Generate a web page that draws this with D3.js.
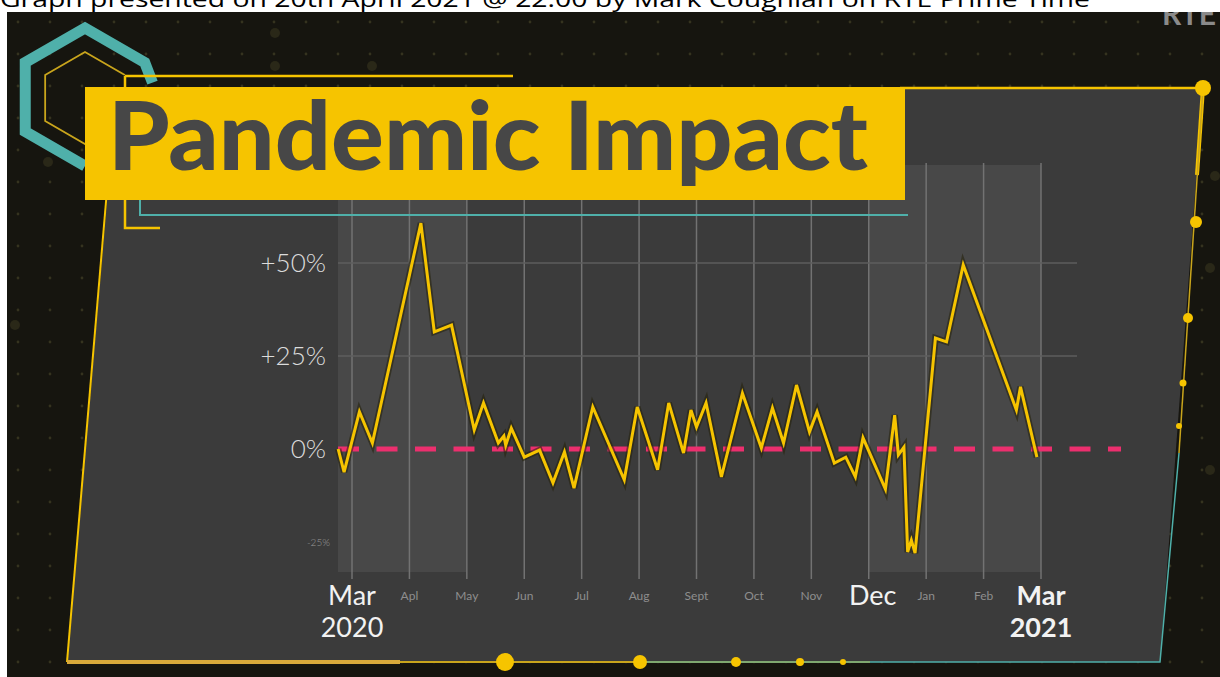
<!DOCTYPE html>
<html>
<head>
<meta charset="utf-8">
<script src="https://cdn.jsdelivr.net/npm/d3@7"></script>
<style>
  html, body { margin: 0; padding: 0; background: #fff; }
  svg { display: block; }
</style>
</head>
<body>
<svg id="chart" width="1220" height="677"></svg>
<script>
// weekly change in deaths vs usual
const dates = ["2020-02-23","2020-02-26","2020-03-05","2020-03-12","2020-04-07","2020-04-14","2020-04-23",
  "2020-05-05","2020-05-10","2020-05-18","2020-05-21","2020-05-22","2020-05-25","2020-06-01","2020-06-09",
  "2020-06-16","2020-06-22","2020-06-27","2020-07-07","2020-07-24","2020-07-31","2020-08-11","2020-08-17",
  "2020-08-25","2020-08-29","2020-09-01","2020-09-06","2020-09-14","2020-09-25","2020-10-05","2020-10-11",
  "2020-10-17","2020-10-24","2020-10-31","2020-11-04","2020-11-13","2020-11-19","2020-11-24","2020-11-28",
  "2020-12-10","2020-12-15","2020-12-17","2020-12-20","2020-12-22","2020-12-24","2020-12-26","2021-01-06",
  "2021-01-12","2021-01-21","2021-02-17","2021-02-19","2021-02-27"];
const values = [0,-6.2,10,1.6,60.7,31.5,33.3,
  5.1,12.4,1.6,3.5,1.0,5.6,-2.2,-0.3,
  -9.1,-0.8,-10.5,11.3,-8.3,11.3,-5.6,12.4,
  -1.1,10.5,5.9,12.4,-7.5,15,0.3,11,
  1.6,17.2,4.6,10,-3.8,-2.2,-7.5,3,
  -10.8,9.1,-1.6,0.5,-27.7,-24.5,-28,29.8,
  28.8,49.5,10.5,16.7,-2.2];

const monthTicks = ["Mar","Apl","May","Jun","Jul","Aug","Sept","Oct","Nov","Dec","Jan","Feb","Mar"];
const bigTicks = {0: ["Mar","2020"], 9: ["Dec"], 12: ["Mar","2021"]};
const yTicks = [50, 25, 0, -25];
const yLabels = ["+50%","+25%","0%","-25%"];
const lockdowns = [[-0.25, 2], [9, 12]];   // shaded periods, in months from Mar 2020

const title = "Pandemic Impact";
const caption = "Graph presented on 20th April 2021 @ 22:00 by Mark Coughlan on RTÉ Prime Time";

const yellow = "#f6c400", teal = "#4fb0aa", pink = "#ec2f6e";

// months are spaced evenly in the graphic, so work in fractional months
const start = new Date(2020, 2, 1);
function monthPos(s) {
  const d = d3.timeParse("%Y-%m-%d")(s);
  const m0 = d3.timeMonth.floor(d);
  const m1 = d3.timeMonth.offset(m0, 1);
  return d3.timeMonth.count(start, m0) + (d - m0) / (m1 - m0);
}
const data = dates.map((d, i) => ({ m: monthPos(d), v: values[i] }));

const svg = d3.select("#chart");
const x = d3.scaleLinear().domain([0, 12]).range([352, 1041]);
const y = d3.scaleLinear().domain([-25, 50]).range([542, 263]);

// dark backdrop with dot texture
svg.append("rect").attr("x", 7).attr("y", 12).attr("width", 1213).attr("height", 665).attr("fill", "#16150f");
const dots = [];
for (let gx = 18; gx < 1220; gx += 32) for (let gy = 22; gy < 677; gy += 32) dots.push([gx, gy]);
svg.append("g").selectAll("circle").data(dots).enter().append("circle")
  .attr("cx", d => d[0]).attr("cy", d => d[1]).attr("r", 1.4).attr("fill", "#35331f");
svg.append("g").selectAll("circle").data([[275, 33], [275, 66], [372, 66], [48, 162], [15, 325], [1215, 176], [1210, 268], [1210, 470]])
  .enter().append("circle").attr("cx", d => d[0]).attr("cy", d => d[1]).attr("r", 5).attr("fill", "#2a2818");

// panel
svg.append("path")
  .attr("d", "M117,88 L1203,88 L1160,662 L67,662 Z")
  .attr("fill", "#3b3b3b");

// lockdown shading
svg.append("g").selectAll("rect").data(lockdowns).enter().append("rect")
  .attr("x", d => d[0] < 0 ? 338 : x(d[0]))
  .attr("width", d => x(d[1]) - (d[0] < 0 ? 338 : x(d[0])))
  .attr("y", 165).attr("height", 572 - 165)
  .attr("fill", "#484848");

// grid
svg.append("g").selectAll("line").data(d3.range(0, 13)).enter().append("line")
  .attr("x1", d => x(d)).attr("x2", d => x(d))
  .attr("y1", 163).attr("y2", 579)
  .attr("stroke", "#727272").attr("stroke-width", 1.5);
svg.append("g").selectAll("line").data([50, 25]).enter().append("line")
  .attr("x1", 338).attr("x2", 1077)
  .attr("y1", d => y(d)).attr("y2", d => y(d))
  .attr("stroke", "#5e5e5e").attr("stroke-width", 1.5);

// y labels
svg.append("g").selectAll("text").data(yTicks).enter().append("text")
  .attr("x", d => d === -25 ? 330 : 326)
  .attr("y", d => y(d))
  .attr("dy", d => d === -25 ? 4 : 9)
  .attr("text-anchor", "end")
  .attr("font-family", "Lato, 'Open Sans', sans-serif")
  .attr("font-weight", 300)
  .attr("font-size", d => d === -25 ? 10 : 26)
  .attr("fill", d => d === -25 ? "#9a9a9a" : "#dcdcdc")
  .text((d, i) => yLabels[i]);

// x labels
const xl = svg.append("g").attr("font-family", "Lato, 'Open Sans', sans-serif").attr("text-anchor", "middle");
monthTicks.forEach((t, i) => {
  if (bigTicks[i]) return;
  xl.append("text").attr("x", x(i)).attr("y", 600)
    .attr("font-size", 12).attr("fill", "#8e8e8e").text(t);
});
Object.keys(bigTicks).forEach(k => {
  const i = +k, bold = i === 12;
  bigTicks[k].forEach((t, j) => {
    xl.append("text").attr("x", x(i) + (i === 9 ? 4 : 0)).attr("y", 605 + j * 32)
      .attr("font-size", 27).attr("font-weight", bold ? 700 : 400)
      .attr("fill", "#f2f2f2").text(t);
  });
});

// zero baseline
svg.append("line")
  .attr("x1", 338).attr("x2", 1121)
  .attr("y1", y(0)).attr("y2", y(0))
  .attr("stroke", pink).attr("stroke-width", 5)
  .attr("stroke-dasharray", "21 17.5");

// the series
const line = d3.line().x(d => x(d.m)).y(d => y(d.v));
svg.append("path").datum(data).attr("d", line)
  .attr("fill", "none").attr("stroke", "#24200a").attr("stroke-opacity", 0.55)
  .attr("stroke-width", 6.5).attr("stroke-linejoin", "miter");
svg.append("path").datum(data).attr("d", line)
  .attr("fill", "none").attr("stroke", yellow)
  .attr("stroke-width", 3).attr("stroke-linejoin", "miter");

// frame decorations
const deco = svg.append("g").attr("fill", "none");
deco.append("path").attr("d", "M67,662 L107,190").attr("stroke", yellow).attr("stroke-width", 2);
deco.append("path").attr("d", "M900,88 L1203,88").attr("stroke", yellow).attr("stroke-width", 2.5);
deco.append("path").attr("d", "M1203,88 L1197,175").attr("stroke", yellow).attr("stroke-width", 4);
deco.append("path").attr("d", "M1203,88 L1179,453").attr("stroke", "#c9a51c").attr("stroke-width", 1.5);
deco.append("path").attr("d", "M1179,453 L1160,662 L870,662").attr("stroke", teal).attr("stroke-width", 1.5);
deco.append("path").attr("d", "M640,662 L870,662").attr("stroke", "#7fa870").attr("stroke-width", 2);
deco.append("path").attr("d", "M400,662 L640,662").attr("stroke", "#c9a51c").attr("stroke-width", 2);
deco.append("path").attr("d", "M67,662 L400,662").attr("stroke", "#d8a93a").attr("stroke-width", 4);
svg.append("g").selectAll("circle")
  .data([[1203, 88, 8], [1196, 222, 6], [1188, 318, 5], [1183, 383, 3.5], [1179, 426, 3],
         [505, 662, 9], [640, 662, 7], [736, 662, 5], [800, 662, 4], [843, 662, 3]])
  .enter().append("circle")
  .attr("cx", d => d[0]).attr("cy", d => d[1]).attr("r", d => d[2]).attr("fill", yellow);

// hexagon logo
const hex = (cx, cy, R, idx) => idx.map(k => {
  const a = (-90 + 60 * k) * Math.PI / 180;
  return [cx + R * Math.cos(a), cy + R * Math.sin(a)];
});
deco.append("path").attr("d", d3.line()(hex(85, 97, 69, [3, 4, 5, 0, 1, 1.3])))
  .attr("stroke", teal).attr("stroke-width", 11).attr("stroke-linejoin", "miter");
deco.append("path").attr("d", d3.line()(hex(85, 98, 46, [2.7, 3, 4, 5, 0, 1])))
  .attr("stroke", "#c9a51c").attr("stroke-width", 1.8);
deco.append("path").attr("d", "M125,76 L513,76").attr("stroke", yellow).attr("stroke-width", 2.5);
deco.append("path").attr("d", "M125,76 L125,92").attr("stroke", yellow).attr("stroke-width", 2.5);
deco.append("path").attr("d", "M125,195 L125,228 L160,228").attr("stroke", yellow).attr("stroke-width", 2.5);
deco.append("path").attr("d", "M140,195 L140,215 L908,215").attr("stroke", teal).attr("stroke-width", 2);

// title box
svg.append("rect").attr("x", 85).attr("y", 87).attr("width", 820).attr("height", 113).attr("fill", yellow);
svg.append("text").attr("x", 108).attr("y", 170)
  .attr("font-family", "Lato, 'Open Sans', sans-serif").attr("font-weight", 900)
  .attr("font-size", 96).attr("fill", "#474747")
  .attr("textLength", 760).attr("lengthAdjust", "spacingAndGlyphs")
  .text(title);

// faint channel logo, cut off at the top
svg.append("text").attr("x", 1162).attr("y", 25)
  .attr("font-family", "Lato, sans-serif").attr("font-size", 30).attr("font-weight", 700)
  .attr("fill", "#8a8a8a").text("RTÉ");

// caption strip
svg.append("rect").attr("x", 0).attr("y", 0).attr("width", 1220).attr("height", 12).attr("fill", "#fff");
svg.append("rect").attr("x", 0).attr("y", 0).attr("width", 7).attr("height", 677).attr("fill", "#fff");
svg.append("text").attr("x", 0).attr("y", 7)
  .attr("font-family", "'Open Sans', 'Liberation Sans', sans-serif").attr("font-size", 22).attr("fill", "#000")
  .attr("textLength", 1090).attr("lengthAdjust", "spacingAndGlyphs")
  .text(caption);
</script>
</body>
</html>
